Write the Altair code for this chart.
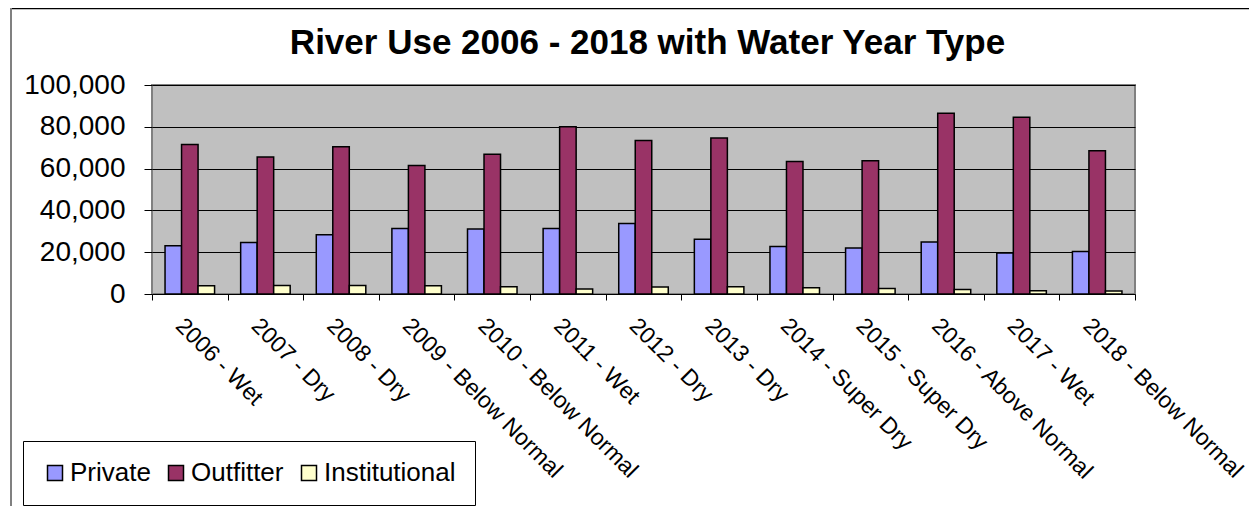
import altair as alt
import pandas as pd

categories = ["2006 - Wet", "2007 - Dry", "2008 - Dry", "2009 - Below Normal",
              "2010 - Below Normal", "2011 - Wet", "2012 - Dry", "2013 - Dry",
              "2014 - Super Dry", "2015 - Super Dry", "2016 - Above Normal",
              "2017 - Wet", "2018 - Below Normal"]
series = ["Private", "Outfitter", "Institutional"]
private = [23100, 24600, 28300, 31300, 31100, 31300, 33700, 26200, 22700, 22000, 24900, 19600, 20300]
outfitter = [71500, 65600, 70500, 61500, 66900, 80000, 73400, 74700, 63400, 63800, 86500, 84600, 68600]
institutional = [4000, 4100, 4100, 4000, 3500, 2400, 3400, 3500, 3000, 2600, 2200, 1600, 1400]
colors = ["#9999FF", "#993366", "#FFFFCC"]
y_ticks = [0, 20000, 40000, 60000, 80000, 100000]
title_text = "River Use 2006 - 2018 with Water Year Type"

rows = []
for name, vals in zip(series, [private, outfitter, institutional]):
    for c, v in zip(categories, vals):
        rows.append({"category": c, "series": name, "value": v})
df = pd.DataFrame(rows)

FONT = "Liberation Sans"

bars = alt.Chart(df).mark_bar(stroke="black", strokeWidth=1.5).encode(
    x=alt.X("category:N", sort=categories,
            scale=alt.Scale(paddingInner=0, paddingOuter=0),
            axis=alt.Axis(title=None, labelAngle=45, labelAlign="left", labelBaseline="top",
                          labelFontSize=23, labelFont=FONT, labelColor="black",
                          labelLimit=600, labelPadding=14, labelOffset=-3, labelOverlap=False,
                          tickBand="extent", tickSize=6, tickColor="black",
                          domain=False, grid=False)),
    xOffset=alt.XOffset("series:N", sort=series,
                        scale=alt.Scale(paddingInner=0, paddingOuter=0.79)),
    y=alt.Y("value:Q", scale=alt.Scale(domain=[0, 100000], nice=False),
            axis=alt.Axis(title=None, values=y_ticks, format=",d",
                          labelFontSize=28, labelFont=FONT, labelColor="black",
                          tickSize=8, tickColor="black", labelPadding=19,
                          gridColor="black", gridWidth=1, domain=False)),
    color=alt.Color("series:N", sort=series,
                    scale=alt.Scale(domain=series, range=colors),
                    legend=alt.Legend(title=None, orient="none", legendX=-129, legendY=356,
                                      direction="horizontal", labelFontSize=26, labelFont=FONT,
                                      labelColor="black", symbolType="square", symbolSize=225,
                                      symbolStrokeColor="black", symbolStrokeWidth=1.5,
                                      strokeColor="black", fillColor="white", padding=19,
                                      columnPadding=12, labelOffset=2)),
)

frame = pd.DataFrame({"k": [0]})
top_line = alt.Chart(frame).mark_rule(color="black", strokeWidth=1.5).encode(
    x=alt.value(-141), x2=alt.value(1110), y=alt.value(-76.5))
left_line = alt.Chart(frame).mark_rule(color="#808080", strokeWidth=2).encode(
    x=alt.value(-141), y=alt.value(-77), y2=alt.value(431))
title = alt.Chart(frame).mark_text(font=FONT, fontSize=35, fontWeight="bold", color="black",
                                   align="center", baseline="alphabetic").encode(
    x=alt.value(495.5), y=alt.value(-31.5), text=alt.value(title_text))

chart = alt.layer(bars, top_line, left_line, title).properties(
    width=983, height=209,
    autosize=alt.AutoSizeParams(type="none"),
    padding={"left": 144, "top": 77, "right": 114, "bottom": 212},
).configure_view(fill="#C0C0C0", stroke="#808080", strokeWidth=2)

chart.save("out.html", embed_options={"renderer": "svg", "actions": False})
